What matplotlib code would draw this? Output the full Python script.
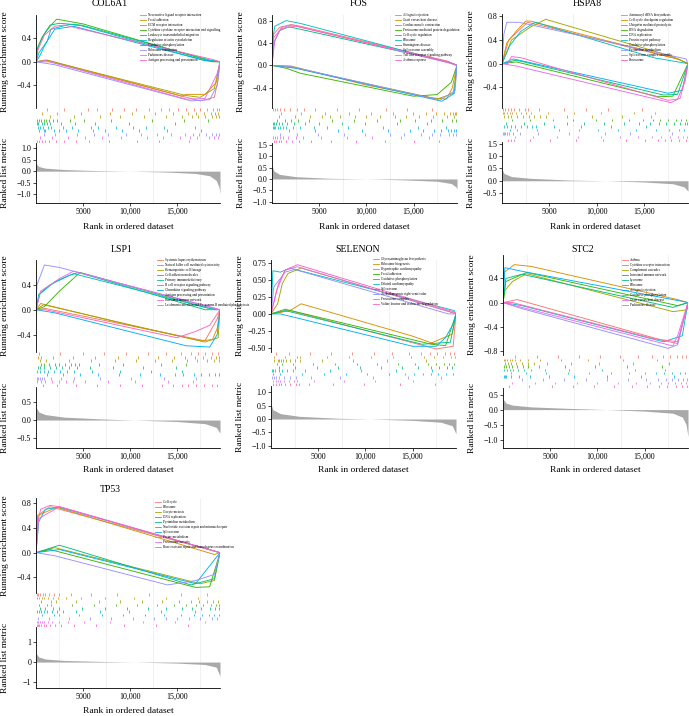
import matplotlib
matplotlib.use('Agg')
import matplotlib.pyplot as plt
from matplotlib.lines import Line2D
import numpy as np

plt.rcParams['font.family'] = ['Liberation Serif', 'DejaVu Serif']

N_GENES = 19600
COLORS = ['#F8766D', '#D89000', '#A3A500', '#39B600', '#00BF7D',
          '#00BFC4', '#00B0F6', '#9590FF', '#E76BF3', '#FF62BC']
X_TICKS = [5000, 10000, 15000]
X_TICK_LABELS = ['5000', '10,000', '15,000']

# ---------------- COL6A1 ----------------
COL6A1_SETS = ['Neuroactive ligand receptor interaction', 'Focal adhesion', 'ECM receptor interaction',
               'Cytokine cytokine receptor interaction and signalling', 'Leukocyte transendothelial migration',
               'Regulation of actin cytoskeleton', 'Oxidative phosphorylation', 'Ribosome maturation',
               'Parkinsons disease', 'Antigen processing and presentation']
COL6A1_ES = [
    [(0, 0), (1.5, 0.0), (17.5, -0.66), (19.0, -0.6), (19.4, -0.3), (19.6, 0)],
    [(0, 0), (1.2, 0.03), (9, -0.3), (15.5, -0.58), (16, -0.55), (18, -0.55), (19.2, -0.35), (19.6, 0)],
    [(0, 0), (1.0, 0.03), (16, -0.57), (17.5, -0.6), (19.0, -0.45), (19.6, 0)],
    [(0, 0), (0.2, 0.25), (0.8, 0.45), (1.5, 0.6), (2.2, 0.72), (5, 0.64), (18.8, 0.0), (19.6, 0)],
    [(0, 0), (0.1, 0.2), (0.6, 0.4), (1.5, 0.62), (2.5, 0.65), (4.8, 0.62), (18.5, 0.03), (19.6, 0)],
    [(0, 0), (0.3, 0.15), (1.2, 0.35), (1.6, 0.55), (3.5, 0.63), (4.8, 0.61), (18, 0.02), (19.6, 0)],
    [(0, 0), (0.4, 0.1), (1.0, 0.3), (2.0, 0.55), (4.0, 0.6), (18, 0.02), (19.6, 0)],
    [(0, 0), (2.0, -0.05), (16.5, -0.66), (18.5, -0.64), (19.3, -0.4), (19.6, 0)],
    [(0, 0), (1.0, 0.02), (16, -0.63), (18, -0.62), (19.3, -0.2), (19.6, 0)],
    [(0, 0), (0.2, 0.2), (0.9, 0.45), (2.0, 0.6), (3.0, 0.62), (18.8, 0.04), (19.6, 0)],
]
COL6A1_HITS = [
    [1.2, 3.0, 5.5, 6.5, 8.1, 9.4, 10.6, 12.0, 13.3, 14.2, 15.1, 16.0, 16.8, 17.5, 18.2, 18.9, 19.3, 19.5],
    [0.6, 2.2, 4.8, 7.9, 10.2, 12.7, 14.6, 16.2, 17.0, 17.9, 18.6, 19.1, 19.4],
    [1.5, 4.1, 6.8, 9.0, 11.5, 13.9, 15.5, 16.6, 17.3, 18.0, 18.7, 19.2, 19.5],
    [0.1, 0.3, 0.5, 0.8, 1.1, 1.4, 1.8, 2.2, 3.6, 5.1, 8.0, 12.4, 15.8, 18.3],
    [0.1, 0.2, 0.6, 0.9, 1.2, 1.5, 2.7, 4.2, 6.3, 9.9, 14.8],
    [0.2, 0.4, 0.7, 1.3, 1.6, 2.9, 3.8, 5.9, 6.6, 8.5, 10.3, 11.7, 13.6, 16.9],
    [0.3, 0.8, 1.0, 1.9, 2.4, 3.2, 4.5, 6.1, 7.3, 9.2, 11.0, 14.0, 17.6],
    [0.9, 2.0, 4.4, 6.2, 7.7, 9.6, 11.2, 12.9, 14.4, 15.9, 16.7, 17.4, 18.1, 18.8, 19.2, 19.5],
    [0.4, 1.7, 3.4, 5.2, 7.0, 9.1, 11.8, 13.5, 15.3, 16.4, 17.2, 18.4, 19.0, 19.4],
    [0.1, 0.3, 0.6, 1.0, 1.4, 2.1, 3.0, 4.3, 5.6, 7.8, 10.8, 13.1, 16.3],
]
COL6A1_METRIC = [(0, 0.32), (0.3, 0.2), (1.0, 0.13), (3.0, 0.07), (6.0, 0.03), (10.0, 0.0),
                 (14.0, -0.04), (17.0, -0.1), (18.5, -0.2), (19.2, -0.4), (19.5, -0.7), (19.6, -0.98)]

# ---------------- FOS ----------------
FOS_SETS = ['Allograft rejection', 'Graft versus host disease', 'Cardiac muscle contraction',
            'Proteasome mediated protein degradation', 'Cell cycle regulation', 'Ribosome',
            'Huntingtons disease', 'Spliceosome assembly', 'Toll like receptor signaling pathway',
            'Asthma response']
FOS_ES = [
    [(0, 0), (0.15, 0.55), (0.8, 0.68), (2.0, 0.73), (3.0, 0.70), (18.5, 0.08), (19.6, 0)],
    [(0, 0), (2.0, -0.01), (10, -0.35), (17, -0.58), (18.5, -0.6), (19.1, -0.4), (19.6, 0)],
    [(0, 0), (2.0, -0.03), (17.5, -0.6), (19.2, -0.5), (19.6, 0)],
    [(0, 0), (1.5, -0.05), (3.0, -0.14), (15, -0.55), (17.5, -0.52), (19.0, -0.3), (19.6, 0)],
    [(0, 0), (0.2, 0.4), (0.8, 0.62), (1.8, 0.69), (18.7, 0.06), (19.6, 0)],
    [(0, 0), (0.1, 0.5), (0.3, 0.7), (1.5, 0.80), (3.0, 0.75), (19.4, 0.02), (19.6, 0)],
    [(0, 0), (2.5, -0.05), (18, -0.64), (19.3, -0.5), (19.6, 0)],
    [(0, 0), (2.0, -0.02), (17.8, -0.62), (19.4, -0.45), (19.6, 0)],
    [(0, 0), (0.3, 0.45), (1.0, 0.68), (2.2, 0.72), (18.6, 0.05), (19.6, 0)],
    [(0, 0), (0.2, 0.5), (1.0, 0.66), (2.5, 0.70), (18.8, 0.06), (19.6, 0)],
]
FOS_HITS = [
    [0.1, 0.3, 0.5, 0.9, 1.3, 1.9, 2.6, 3.4, 4.6, 6.9, 9.2, 12.1, 14.3, 17.0],
    [1.0, 3.1, 5.6, 8.2, 10.5, 12.8, 14.9, 16.3, 17.4, 18.2, 18.9, 19.2, 19.4, 19.5],
    [0.7, 2.4, 4.0, 5.3, 6.1, 7.2, 8.8, 10.0, 11.4, 13.0, 14.2, 15.6, 17.1, 18.5, 19.3],
    [0.5, 1.4, 2.0, 2.8, 3.9, 6.4, 8.7, 11.1, 13.6, 15.2, 16.8, 18.0, 19.1, 19.5],
    [0.1, 0.2, 0.4, 0.7, 1.1, 1.6, 2.3, 3.5, 5.0, 7.4, 9.8, 13.2, 16.4],
    [0.1, 0.2, 0.3, 0.6, 0.8, 1.2, 1.5, 2.2, 3.0, 4.4, 5.8, 8.1, 11.8, 15.5, 18.4],
    [1.8, 4.6, 7.0, 9.5, 12.3, 14.6, 16.0, 17.2, 17.9, 18.6, 19.0, 19.3, 19.5],
    [0.9, 2.7, 4.9, 7.6, 9.9, 12.5, 14.0, 15.8, 16.9, 17.8, 18.7, 19.2, 19.5],
    [0.1, 0.3, 0.5, 0.8, 1.2, 1.7, 2.5, 3.3, 5.2, 7.9, 10.6, 13.7, 16.6],
    [0.2, 0.4, 0.7, 1.0, 1.5, 2.1, 2.9, 4.1, 6.2, 8.9, 12.0, 15.0, 17.7],
]
FOS_METRIC = [(0, 0.6), (0.2, 0.35), (0.8, 0.2), (2.5, 0.1), (6.0, 0.03), (10.0, 0.0),
              (14.0, -0.04), (17.5, -0.1), (19.0, -0.2), (19.5, -0.35), (19.6, -0.45)]

# ---------------- HSPA8 ----------------
HSPA8_SETS = ['Aminoacyl tRNA biosynthesis', 'Cell cycle checkpoint regulation',
              'Ubiquitin mediated proteolysis', 'RNA degradation', 'DNA replication',
              'Protein export pathway', 'Oxidative phosphorylation', 'Pyrimidine metabolism',
              'Spliceosome complex assembly', 'Proteasome']
HSPA8_ES = [
    [(0, 0), (0.7, 0.4), (2.7, 0.70), (18.7, 0.07), (19.6, 0)],
    [(0, 0), (0.5, 0.35), (1.5, 0.55), (2.5, 0.72), (3.0, 0.72), (18.5, 0.08), (19.6, 0)],
    [(0, 0), (1.0, 0.4), (3.0, 0.62), (4.6, 0.75), (18.0, 0.12), (19.6, 0)],
    [(0, 0), (1.5, 0.03), (16.5, -0.56), (18.0, -0.55), (19.6, 0)],
    [(0, 0), (1.5, 0.06), (17.0, -0.53), (18.5, -0.52), (19.6, 0)],
    [(0, 0), (0.8, 0.3), (2.0, 0.55), (3.5, 0.70), (16.0, 0.1), (19.6, 0)],
    [(0, 0), (1.2, 0.08), (17.5, -0.5), (19.0, -0.45), (19.6, 0)],
    [(0, 0), (0.2, 0.5), (0.5, 0.70), (1.8, 0.70), (19.4, 0.08), (19.6, 0)],
    [(0, 0), (1.5, -0.04), (17.8, -0.66), (18.8, -0.58), (19.6, 0)],
    [(0, 0), (0.6, 0.0), (1.0, 0.12), (2.0, 0.10), (17.5, -0.62), (18.5, -0.6), (19.3, -0.3), (19.6, 0)],
]
HSPA8_HITS = [
    [0.1, 0.3, 0.6, 0.9, 1.3, 1.8, 2.4, 2.7, 3.9, 6.5, 8.8, 11.2, 14.7],
    [0.1, 0.2, 0.5, 0.8, 1.1, 1.5, 2.0, 2.5, 3.1, 4.8, 7.6, 10.4, 13.9, 16.1],
    [0.2, 0.6, 1.0, 1.6, 2.2, 2.8, 3.4, 4.0, 4.6, 6.8, 9.5, 12.6, 15.7],
    [1.1, 3.0, 5.4, 7.5, 9.9, 11.6, 13.4, 14.9, 15.9, 16.7, 17.5, 18.3, 18.9, 19.4],
    [0.4, 2.3, 4.4, 6.9, 8.6, 10.8, 12.9, 14.4, 15.6, 16.5, 17.3, 18.1, 18.8, 19.3, 19.5],
    [0.2, 0.5, 0.9, 1.4, 2.0, 2.6, 3.2, 3.6, 5.5, 8.3, 11.5, 15.2],
    [0.8, 1.6, 3.7, 6.0, 8.1, 10.1, 12.2, 14.1, 16.2, 17.6, 18.6, 19.2],
    [0.1, 0.2, 0.3, 0.5, 0.7, 1.2, 1.9, 3.8, 7.1, 10.9, 13.5, 17.9],
    [1.4, 3.3, 5.8, 8.0, 10.4, 12.4, 14.3, 15.8, 16.8, 17.7, 18.5, 19.1, 19.5],
    [0.6, 1.0, 1.3, 2.9, 5.1, 7.8, 10.6, 13.1, 15.1, 16.4, 17.2, 17.8, 18.7, 19.4],
]
HSPA8_METRIC = [(0, 0.48), (0.2, 0.3), (1.0, 0.17), (3.0, 0.1), (7.0, 0.03), (11.0, 0.0),
                (15.0, -0.05), (18.0, -0.12), (19.2, -0.25), (19.6, -0.42)]

# ---------------- LSP1 ----------------
LSP1_SETS = ['Systemic lupus erythematosus', 'Natural killer cell mediated cytotoxicity', 'Hematopoietic cell lineage',
             'Cell adhesion molecules', 'Primary immunodeficiency', 'B cell receptor signaling pathway',
             'Chemokine signaling pathway', 'Antigen processing and presentation', 'Intestinal immune network',
             'Leishmania infection and Fc gamma R mediated phagocytosis']
LSP1_ES = [
    [(0, 0), (1.0, 0.02), (18.0, -0.5), (19.3, -0.15), (19.6, 0)],
    [(0, 0), (0.5, 0.1), (10.0, -0.25), (17.5, -0.5), (18.8, -0.48), (19.3, -0.3), (19.6, 0)],
    [(0, 0), (0.8, 0.08), (18.0, -0.52), (19.4, -0.45), (19.6, 0)],
    [(0, 0), (0.9, 0.05), (2.5, 0.3), (4.7, 0.6), (18.2, 0.03), (19.6, 0)],
    [(0, 0), (0.3, 0.25), (1.5, 0.4), (3.5, 0.55), (4.5, 0.6), (18.0, 0.0), (19.6, 0)],
    [(0, 0), (0.4, 0.25), (2.0, 0.45), (4.0, 0.58), (18.5, 0.02), (19.6, 0)],
    [(0, 0), (2.0, -0.05), (16.0, -0.58), (18.5, -0.6), (19.3, -0.4), (19.6, 0)],
    [(0, 0), (0.1, 0.4), (0.9, 0.72), (2.5, 0.68), (19.0, 0.02), (19.6, 0)],
    [(0, 0), (0.5, 0.3), (2.5, 0.5), (4.0, 0.62), (18.5, 0.05), (19.6, 0)],
    [(0, 0), (1.0, 0.0), (15.0, -0.45), (17.0, -0.35), (18.5, -0.25), (19.6, 0)],
]
LSP1_HITS = [
    [0.3, 2.6, 5.0, 7.2, 9.6, 11.9, 13.8, 15.4, 16.5, 17.3, 18.0, 18.8, 19.4],
    [0.2, 0.5, 1.8, 3.9, 6.3, 8.7, 10.9, 13.0, 14.7, 15.9, 16.9, 17.8, 18.6, 19.2, 19.5],
    [0.4, 1.1, 3.5, 5.9, 8.4, 10.7, 12.7, 14.5, 16.1, 17.1, 18.2, 19.0, 19.5],
    [0.5, 0.9, 1.4, 2.0, 2.5, 3.1, 3.7, 4.2, 4.6, 6.7, 9.3, 13.3, 16.0],
    [0.2, 0.4, 0.9, 1.5, 2.1, 2.8, 3.5, 4.4, 5.8, 8.2, 11.4, 14.9],
    [0.1, 0.4, 0.8, 1.3, 1.9, 2.6, 3.3, 4.0, 6.0, 9.0, 12.2, 15.6],
    [1.2, 2.9, 4.7, 6.6, 8.8, 11.1, 13.2, 14.8, 15.7, 16.8, 17.6, 18.4, 19.1, 19.5],
    [0.1, 0.2, 0.4, 0.6, 0.9, 1.6, 2.7, 4.1, 6.8, 10.1, 13.6, 17.0],
    [0.1, 0.5, 1.0, 1.7, 2.4, 3.2, 3.9, 5.2, 7.7, 10.5, 14.1, 16.7],
    [0.7, 2.2, 4.3, 6.5, 8.9, 11.3, 13.4, 14.6, 15.5, 16.2, 17.0, 17.9, 18.7, 19.3],
]
LSP1_METRIC = [(0, 0.36), (0.3, 0.22), (1.0, 0.15), (3.0, 0.08), (7.0, 0.03), (10.5, 0.0),
               (15.0, -0.04), (18.0, -0.1), (19.2, -0.2), (19.6, -0.36)]

# ---------------- SELENON ----------------
SELENON_SETS = ['Glycosaminoglycan biosynthesis', 'Ribosome biogenesis', 'Hypertrophic cardiomyopathy',
                'Focal adhesion', 'Oxidative phosphorylation', 'Dilated cardiomyopathy', 'Spliceosome',
                'Arrhythmogenic right ventricular', 'Proteasome complex', 'Valine leucine and isoleucine degradation']
SELENON_ES = [
    [(0, 0), (2.0, 0.05), (17.5, -0.52), (19.3, -0.48), (19.6, 0)],
    [(0, 0), (2.0, 0.05), (3.2, 0.15), (15.0, -0.33), (17.0, -0.43), (19.2, -0.3), (19.6, 0)],
    [(0, 0), (0.7, 0.15), (1.2, 0.45), (1.8, 0.6), (3.2, 0.68), (18.5, 0.05), (19.6, 0)],
    [(0, 0), (1.5, 0.07), (17.0, -0.45), (18.5, -0.47), (19.6, 0)],
    [(0, 0), (1.5, 0.05), (16.0, -0.45), (19.0, -0.42), (19.6, 0)],
    [(0, 0), (0.2, 0.64), (1.0, 0.62), (2.0, 0.68), (19.4, 0.05), (19.6, 0)],
    [(0, 0), (1.0, 0.0), (15.0, -0.48), (17.5, -0.48), (18.5, -0.35), (19.3, -0.15), (19.6, 0)],
    [(0, 0), (0.3, 0.4), (1.5, 0.62), (2.5, 0.66), (18.8, 0.0), (19.6, 0)],
    [(0, 0), (0.6, 0.35), (1.5, 0.65), (2.8, 0.70), (19.0, 0.03), (19.6, 0)],
    [(0, 0), (0.8, 0.45), (1.5, 0.65), (2.8, 0.73), (19.4, 0.03), (19.6, 0)],
]
SELENON_HITS = [
    [0.5, 1.9, 4.1, 6.4, 8.6, 10.9, 12.8, 14.6, 15.9, 16.8, 17.6, 18.4, 19.0, 19.4],
    [0.3, 1.5, 2.8, 3.1, 5.9, 8.3, 10.6, 12.9, 14.8, 16.2, 17.3, 18.2, 19.1, 19.5],
    [0.3, 0.7, 0.9, 1.1, 1.3, 1.6, 2.0, 2.5, 3.1, 5.4, 8.7, 12.3, 16.4],
    [0.6, 1.2, 2.3, 4.5, 6.8, 9.1, 11.2, 13.5, 15.3, 16.6, 17.5, 18.3, 18.9, 19.4],
    [0.9, 2.5, 4.9, 7.1, 9.4, 11.7, 13.9, 15.6, 16.9, 17.8, 18.6, 19.2],
    [0.1, 0.2, 0.4, 0.8, 1.2, 1.7, 2.3, 3.6, 6.2, 9.5, 13.2, 17.1],
    [0.2, 1.0, 3.3, 5.6, 7.9, 10.2, 12.5, 14.2, 15.1, 16.1, 17.0, 17.7, 18.5, 19.3],
    [0.1, 0.3, 0.5, 0.9, 1.4, 2.0, 2.7, 4.2, 7.3, 10.8, 14.5, 18.0],
    [0.2, 0.5, 0.7, 1.0, 1.4, 1.9, 2.4, 2.8, 4.6, 7.7, 11.0, 15.0],
    [0.2, 0.5, 0.8, 1.1, 1.5, 2.0, 2.6, 3.0, 4.0, 6.6, 9.8, 13.7, 17.4],
]
SELENON_METRIC = [(0, 0.55), (0.2, 0.35), (1.0, 0.2), (3.0, 0.1), (7.0, 0.03), (10.5, 0.0),
                  (15.0, -0.05), (18.0, -0.12), (19.2, -0.25), (19.6, -0.55)]

# ---------------- STC2 ----------------
STC2_SETS = ['Asthma', 'Cytokine receptor interaction', 'Complement cascades', 'Intestinal immune network',
             'Lysosome', 'Ribosome', 'Allograft rejection', 'Oxidative phosphorylation',
             'Graft versus host disease', 'Parkinsons disease']
STC2_ES = [
    [(0, 0), (1.5, 0.05), (17.0, -0.63), (18.5, -0.68), (19.6, 0)],
    [(0, 0), (0.1, 0.5), (1.2, 0.63), (3.0, 0.6), (18.5, 0.05), (19.6, 0)],
    [(0, 0), (0.2, 0.2), (1.0, 0.35), (2.5, 0.48), (18.0, -0.15), (19.5, -0.12), (19.6, 0)],
    [(0, 0), (0.3, 0.35), (2.5, 0.5), (18.5, -0.05), (19.6, 0)],
    [(0, 0), (0.3, 0.4), (2.0, 0.47), (18.0, -0.08), (19.6, 0)],
    [(0, 0), (2.0, -0.05), (17.0, -0.65), (19.0, -0.55), (19.6, 0)],
    [(0, 0), (0.2, 0.58), (2.0, 0.52), (19.0, 0.02), (19.6, 0)],
    [(0, 0), (2.0, -0.1), (17.5, -0.76), (18.5, -0.7), (19.6, 0)],
    [(0, 0), (2.0, -0.08), (18.0, -0.72), (18.5, -0.55), (19.6, 0)],
    [(0, 0), (1.0, 0.0), (16.0, -0.6), (18.5, -0.65), (19.6, 0)],
]
STC2_HITS = [
    [1.3, 3.6, 5.8, 8.0, 10.3, 12.4, 14.3, 15.8, 16.9, 17.7, 18.4, 19.0, 19.4],
    [0.1, 0.2, 0.4, 0.7, 1.0, 1.3, 1.8, 2.6, 3.9, 6.1, 9.0, 12.7, 16.3],
    [0.2, 0.5, 0.9, 1.4, 2.0, 2.6, 3.3, 4.7, 7.2, 10.2, 13.8, 17.6],
    [0.1, 0.3, 0.6, 1.0, 1.5, 2.1, 2.6, 3.8, 6.6, 9.7, 13.1, 16.8],
    [0.1, 0.4, 0.7, 1.1, 1.6, 2.2, 3.0, 4.4, 7.0, 10.5, 14.0, 17.2],
    [0.8, 2.4, 4.6, 6.9, 9.1, 11.4, 13.4, 15.0, 16.2, 17.1, 17.9, 18.7, 19.3],
    [0.1, 0.2, 0.3, 0.9, 1.7, 2.9, 4.9, 7.5, 11.0, 14.6, 18.1],
    [2.0, 4.2, 6.5, 8.8, 11.0, 13.2, 15.1, 16.4, 17.3, 17.9, 18.5, 19.1, 19.5],
    [1.0, 3.4, 5.5, 7.8, 10.0, 12.2, 14.1, 15.6, 16.7, 17.5, 18.2, 18.9, 19.4],
    [0.6, 2.8, 5.2, 7.4, 9.6, 11.8, 13.7, 15.3, 16.5, 17.4, 18.3, 19.0, 19.5],
]
STC2_METRIC = [(0, 0.36), (0.3, 0.22), (1.0, 0.15), (3.0, 0.09), (7.0, 0.04), (11.0, 0.0),
               (15.0, -0.05), (18.0, -0.12), (19.0, -0.25), (19.4, -0.5), (19.6, -0.9)]

# ---------------- TP53 ----------------
TP53_SETS = ['Cell cycle', 'Ribosome', 'Oocyte meiosis', 'DNA replication', 'Pyrimidine metabolism',
             'Nucleotide excision repair and mismatch repair', 'Spliceosome', 'Purine metabolism',
             'Proteasome activity', 'Base excision repair and homologous recombination']
TP53_ES = [
    [(0, 0), (0.2, 0.6), (1.5, 0.74), (19.6, 0)],
    [(0, 0), (0.2, 0.6), (2.2, 0.73), (19.0, -0.03), (19.6, 0)],
    [(0, 0), (2.0, 0.08), (17.5, -0.5), (19.0, -0.45), (19.6, 0)],
    [(0, 0), (1.5, 0.05), (17.0, -0.56), (18.5, -0.55), (19.6, 0)],
    [(0, 0), (2.5, 0.12), (16.5, -0.52), (19.0, -0.42), (19.6, 0)],
    [(0, 0), (0.3, 0.5), (1.0, 0.7), (2.5, 0.73), (19.6, 0)],
    [(0, 0), (2.5, 0.05), (17.0, -0.5), (19.6, 0)],
    [(0, 0), (2.0, -0.05), (14.0, -0.52), (17.0, -0.45), (19.0, -0.35), (19.6, 0)],
    [(0, 0), (0.3, 0.55), (2.5, 0.74), (19.6, 0)],
    [(0, 0), (0.1, 0.45), (0.5, 0.7), (1.5, 0.76), (2.5, 0.74), (19.6, 0)],
]
TP53_HITS = [
    [0.1, 0.2, 0.4, 0.7, 1.0, 1.4, 1.9, 2.5, 3.7, 5.9, 8.6, 12.0, 15.4, 18.2],
    [0.1, 0.3, 0.6, 0.9, 1.3, 1.8, 2.3, 3.2, 4.8, 7.3, 10.4, 13.9, 17.3],
    [0.5, 1.6, 2.1, 4.3, 6.7, 9.0, 11.3, 13.4, 15.2, 16.5, 17.4, 18.2, 18.9, 19.4],
    [0.3, 1.2, 1.6, 3.8, 6.2, 8.5, 10.8, 12.9, 14.7, 16.0, 17.0, 17.8, 18.6, 19.2, 19.5],
    [0.4, 1.0, 1.8, 2.4, 4.9, 7.4, 9.7, 11.9, 13.8, 15.5, 16.6, 17.6, 18.5, 19.1, 19.5],
    [0.1, 0.3, 0.5, 0.8, 1.2, 1.7, 2.2, 2.9, 4.3, 6.8, 9.9, 13.3, 16.9],
    [0.6, 1.9, 2.5, 4.6, 7.0, 9.3, 11.6, 13.6, 15.4, 16.8, 17.7, 18.4, 19.0, 19.5],
    [0.2, 1.4, 3.5, 5.7, 8.0, 10.3, 12.6, 13.9, 15.0, 16.3, 17.5, 18.7, 19.3],
    [0.1, 0.2, 0.4, 0.6, 0.9, 1.3, 1.7, 2.4, 3.4, 5.1, 7.9, 11.4, 14.8, 18.0],
    [0.1, 0.2, 0.3, 0.5, 0.8, 1.1, 1.5, 2.0, 2.7, 4.0, 6.4, 9.4, 12.8, 16.2],
]
TP53_METRIC = [(0, 0.43), (0.3, 0.25), (1.0, 0.15), (3.0, 0.08), (7.0, 0.03), (10.5, 0.0),
               (15.0, -0.05), (18.0, -0.12), (19.2, -0.25), (19.6, -0.7)]

# ---------------- layout (pixels, y from top) ----------------
W, H = 689, 716
LAYOUT = [
    dict(name='COL6A1', sets=COL6A1_SETS, es=COL6A1_ES, hits=COL6A1_HITS, metric=COL6A1_METRIC,
         left=36, right=220, es_tb=(15, 108), rk_tb=(143, 203), es_ylim=(-0.78, 0.79), es_ticks=[-0.4, 0.0, 0.4],
         es_fmt='{:.1f}', rk_ylim=(-1.38, 1.22), rk_ticks=[-1.0, -0.5, 0.0, 0.5, 1.0], rk_fmt='{:.1f}',
         title_xy=(110, 4), xlabel_y=227, leg_xy=(140, 13)),
    dict(name='FOS', sets=FOS_SETS, es=FOS_ES, hits=FOS_HITS, metric=FOS_METRIC,
         left=272, right=457, es_tb=(15, 108), rk_tb=(143, 203), es_ylim=(-0.76, 0.90), es_ticks=[-0.4, 0.0, 0.4, 0.8],
         es_fmt='{:.1f}', rk_ylim=(-1.05, 1.57), rk_ticks=[-1.0, -0.5, 0.0, 0.5, 1.0, 1.5], rk_fmt='{:.1f}',
         title_xy=(359, 4), xlabel_y=227, leg_xy=(395, 13)),
    dict(name='HSPA8', sets=HSPA8_SETS, es=HSPA8_ES, hits=HSPA8_HITS, metric=HSPA8_METRIC,
         left=502, right=688, es_tb=(14, 108), rk_tb=(142, 203), es_ylim=(-0.75, 0.84), es_ticks=[-0.4, 0.0, 0.4, 0.8],
         es_fmt='{:.1f}', rk_ylim=(-0.9, 1.57), rk_ticks=[-0.5, 0.0, 0.5, 1.0, 1.5], rk_fmt='{:.1f}',
         title_xy=(587, 4), xlabel_y=227, leg_xy=(621, 13)),
    dict(name='LSP1', sets=LSP1_SETS, es=LSP1_ES, hits=LSP1_HITS, metric=LSP1_METRIC,
         left=36, right=220, es_tb=(260, 352), rk_tb=(387, 448), es_ylim=(-0.68, 0.80), es_ticks=[-0.4, 0.0, 0.4],
         es_fmt='{:.1f}', rk_ylim=(-0.77, 0.91), rk_ticks=[-0.5, 0.0, 0.5], rk_fmt='{:.1f}',
         title_xy=(122, 250), xlabel_y=470, leg_xy=(157, 258)),
    dict(name='SELENON', sets=SELENON_SETS, es=SELENON_ES, hits=SELENON_HITS, metric=SELENON_METRIC,
         left=271, right=456, es_tb=(260, 352), rk_tb=(386, 448), es_ylim=(-0.565, 0.80),
         es_ticks=[-0.5, -0.25, 0.0, 0.25, 0.5, 0.75], es_fmt='{:.2f}', rk_ylim=(-1.08, 1.23),
         rk_ticks=[-1.0, -0.5, 0.0, 0.5, 1.0], rk_fmt='{:.1f}',
         title_xy=(358, 249), xlabel_y=470, leg_xy=(373, 257)),
    dict(name='STC2', sets=STC2_SETS, es=STC2_ES, hits=STC2_HITS, metric=STC2_METRIC,
         left=503, right=688, es_tb=(255, 355), rk_tb=(388, 448), es_ylim=(-0.87, 0.79),
         es_ticks=[-0.8, -0.4, 0.0, 0.4], es_fmt='{:.1f}', rk_ylim=(-1.28, 0.72),
         rk_ticks=[-1.0, -0.5, 0.0, 0.5], rk_fmt='{:.1f}',
         title_xy=(583, 249), xlabel_y=470, leg_xy=(622, 258)),
    dict(name='TP53', sets=TP53_SETS, es=TP53_ES, hits=TP53_HITS, metric=TP53_METRIC,
         left=36, right=220, es_tb=(498, 593), rk_tb=(627, 688), es_ylim=(-0.65, 0.88),
         es_ticks=[-0.4, 0.0, 0.4, 0.8], es_fmt='{:.1f}', rk_ylim=(-1.28, 1.73),
         rk_ticks=[-1, 0, 1], rk_fmt='{:.0f}',
         title_xy=(110, 490), xlabel_y=711, leg_xy=(155, 500)),
]

GRID_X = [2500, 7500, 12500, 17500]
FS_TICK = 5.8
FS_LAB = 6.8


def fmt(v, f):
    s = f.format(v)
    return s.replace('-', '\u2212')


def px_axes(fig, left, right, top, bottom):
    return fig.add_axes([left / W, 1 - bottom / H, (right - left) / W, (bottom - top) / H])


fig = plt.figure(figsize=(W / 100, H / 100), dpi=100)

for p in LAYOUT:
    L, R = p['left'], p['right']
    et, eb = p['es_tb']
    rt, rb = p['rk_tb']

    # ---- running ES ----
    ax = px_axes(fig, L, R, et, eb)
    for gx in GRID_X:
        ax.axvline(gx, color='#ececec', lw=0.5, zorder=0)
    handles = []
    for i, curve in enumerate(p['es']):
        xs = [c[0] * 1000 for c in curve]
        ys = [c[1] for c in curve]
        ax.plot(xs, ys, color=COLORS[i], lw=0.65, zorder=2)
        handles.append(Line2D([0], [0], color=COLORS[i], lw=0.6))
    ax.set_xlim(0, N_GENES)
    ax.set_ylim(*p['es_ylim'])
    ax.set_yticks(p['es_ticks'])
    ax.set_yticklabels([fmt(v, p['es_fmt']) for v in p['es_ticks']], fontsize=FS_TICK)
    ax.set_xticks([])
    for s in ['top', 'right', 'bottom']:
        ax.spines[s].set_visible(False)
    ax.spines['left'].set_linewidth(0.6)
    ax.tick_params(axis='y', length=2, width=0.5, pad=1.5)
    ax.patch.set_alpha(0)
    ax.legend(handles, p['sets'], loc='upper left',
              bbox_to_anchor=(p['leg_xy'][0] / W, 1 - p['leg_xy'][1] / H),
              bbox_transform=fig.transFigure, fontsize=2.4, frameon=False,
              handlelength=1.8, handletextpad=0.6, labelspacing=0.3, borderpad=0,
              borderaxespad=0)

    # ---- hits ----
    axh = px_axes(fig, L, R, eb, rt)
    for gx in GRID_X:
        axh.axvline(gx, color='#ececec', lw=0.5, zorder=0)
    n = len(p['hits'])
    for i, hits in enumerate(p['hits']):
        xs = [h * 1000 for h in hits]
        axh.vlines(xs, n - i - 0.9, n - i - 0.1, color=COLORS[i], lw=0.55)
    axh.set_xlim(0, N_GENES)
    axh.set_ylim(0, n)
    axh.axis('off')

    # ---- ranked list metric ----
    axr = px_axes(fig, L, R, rt, rb)
    for gx in GRID_X:
        axr.axvline(gx, color='#ececec', lw=0.5, zorder=0)
    mx = [m[0] * 1000 for m in p['metric']]
    my = [m[1] for m in p['metric']]
    axr.fill_between(mx, 0, my, color='#a9a9a9', lw=0, zorder=1)
    axr.set_xlim(0, N_GENES)
    axr.set_ylim(*p['rk_ylim'])
    axr.set_yticks(p['rk_ticks'])
    axr.set_yticklabels([fmt(v, p['rk_fmt']) for v in p['rk_ticks']], fontsize=FS_TICK)
    axr.set_xticks(X_TICKS)
    axr.set_xticklabels(X_TICK_LABELS, fontsize=FS_TICK)
    for s in ['top', 'right']:
        axr.spines[s].set_visible(False)
    axr.spines['left'].set_linewidth(0.6)
    axr.spines['bottom'].set_linewidth(0.6)
    axr.tick_params(axis='both', length=2, width=0.5, pad=1.5)
    axr.patch.set_alpha(0)

    # ---- labels ----
    fig.text(p['title_xy'][0] / W, 1 - p['title_xy'][1] / H, p['name'], ha='center', va='center',
             fontsize=7)
    fig.text((L - 31) / W, 1 - (et + eb) / 2 / H, 'Running enrichment score', rotation=90,
             ha='center', va='center', fontsize=FS_LAB)
    fig.text((L - 31) / W, 1 - (rt + rb) / 2 / H, 'Ranked list metric', rotation=90,
             ha='center', va='center', fontsize=FS_LAB)
    fig.text((L + R) / 2 / W, 1 - p['xlabel_y'] / H, 'Rank in ordered dataset', ha='center',
             va='center', fontsize=FS_LAB)

fig.savefig('out.png', dpi=100)
